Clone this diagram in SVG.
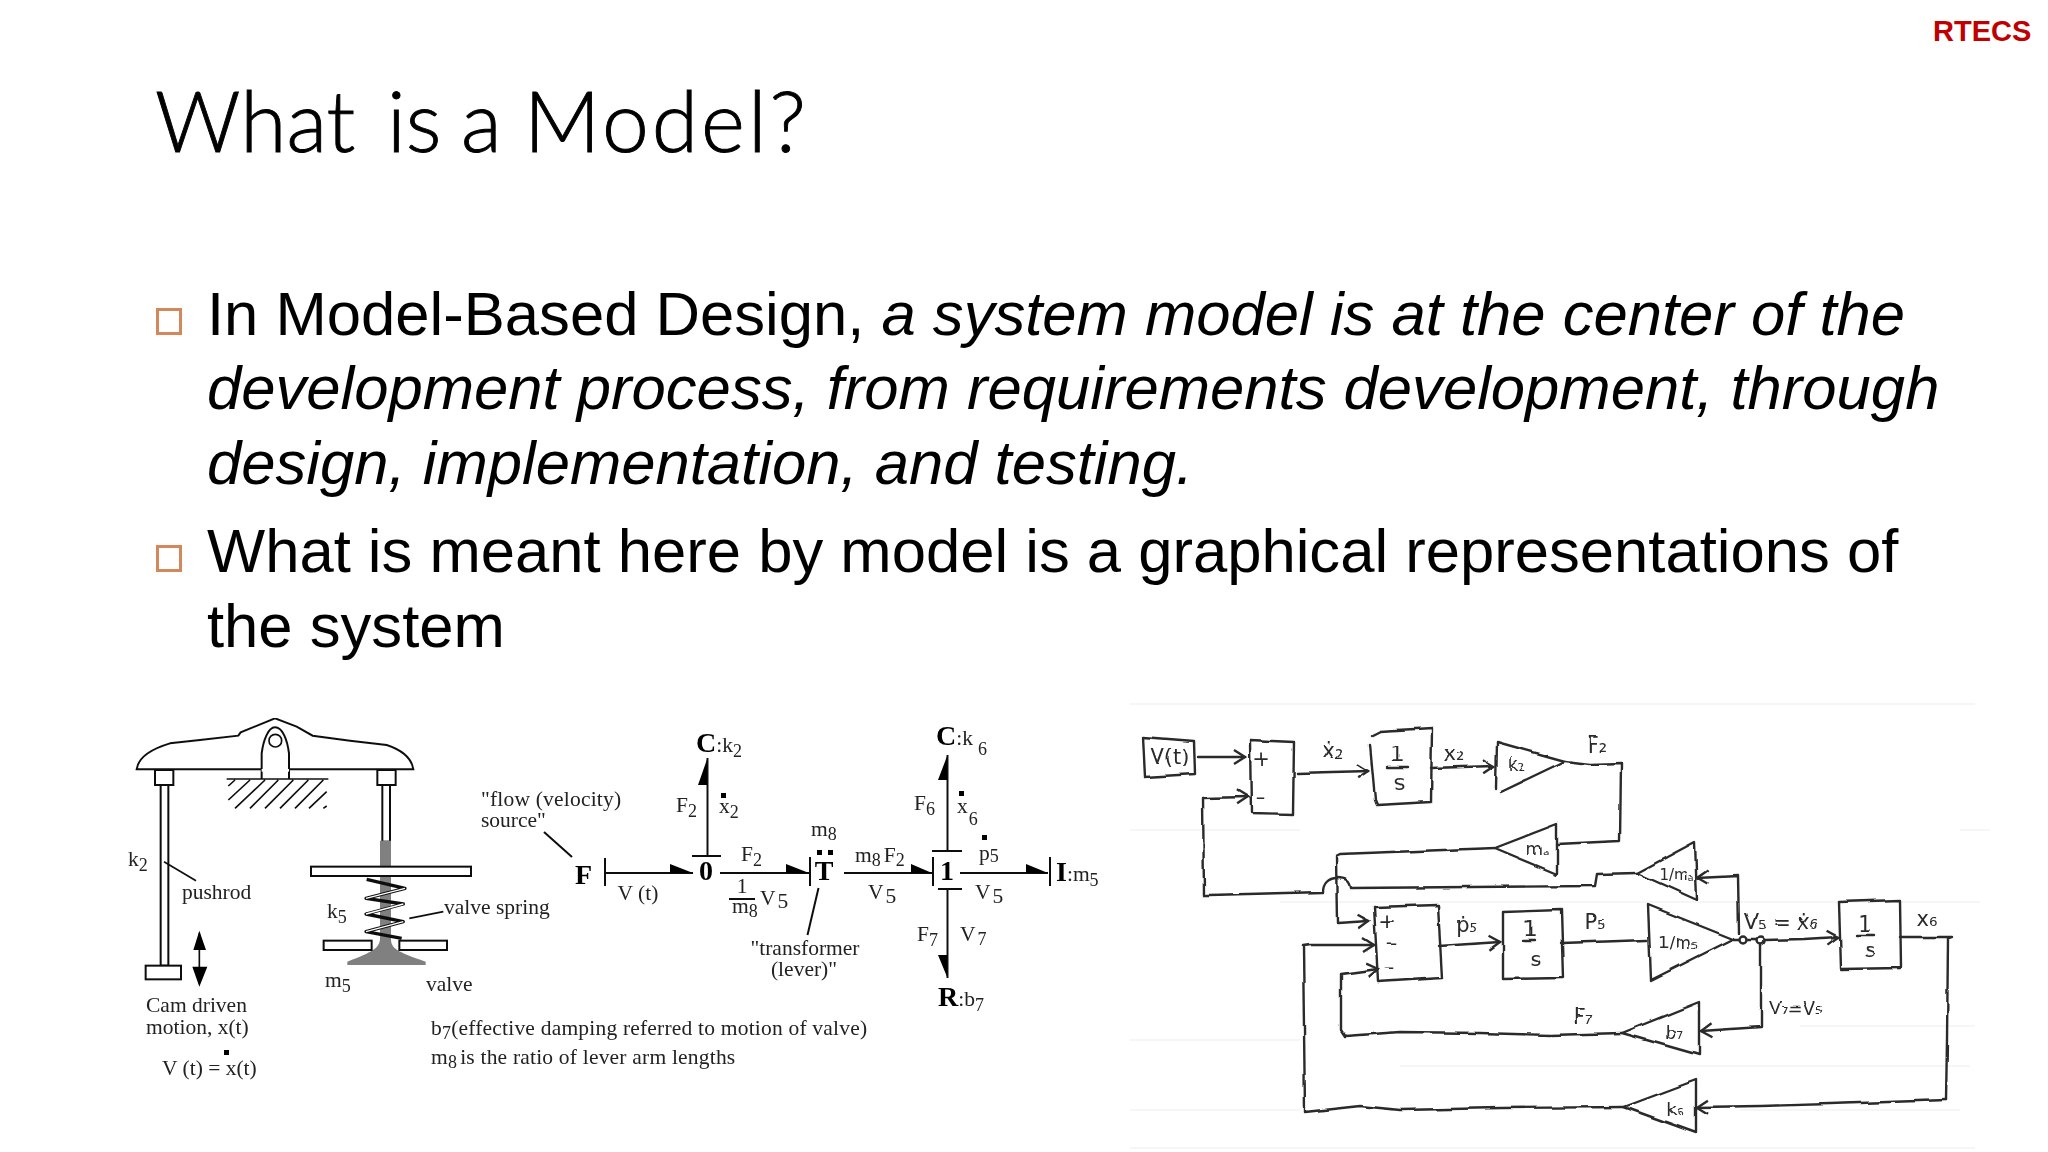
<svg xmlns="http://www.w3.org/2000/svg" width="2048" height="1152" viewBox="0 0 2048 1152">
<style>
text{fill:#000}
.b{font-family:"Liberation Sans",Arial,sans-serif;font-size:61.6px}
.i{font-style:italic}
.s{font-family:"Liberation Serif","Times New Roman",serif;font-size:21.5px;font-weight:normal;fill:#222}
.sb{font-family:"Liberation Serif","Times New Roman",serif;font-size:28px;font-weight:bold}
.u{font-size:18px}
.c{text-anchor:middle}
.l{fill:none;stroke:#111;stroke-width:2}
.g{fill:#808080}
.k{fill:#000}
.h{fill:none;stroke:#2a2a2a;stroke-width:2.4;stroke-linejoin:round;stroke-linecap:round}
.ht{font-family:"DejaVu Sans",sans-serif;font-size:21px;fill:#2a2a2a;text-anchor:middle}
.p{stroke:#f6f6f6;stroke-width:2}
.bu{fill:none;stroke:#d4875a;stroke-width:3}
</style>
<defs>
<marker id="oa" markerUnits="userSpaceOnUse" markerWidth="16" markerHeight="18" refX="13" refY="9" orient="auto"><path d="M2,2 L13,9 L2,16" fill="none" stroke="#2a2a2a" stroke-width="2.4"/></marker>
<filter id="soft" x="0" y="0" width="1" height="1" filterUnits="objectBoundingBox"><feGaussianBlur stdDeviation=".5"/></filter>
<filter id="wob" filterUnits="userSpaceOnUse" x="1120" y="700" width="880" height="450"><feTurbulence type="fractalNoise" baseFrequency=".035" numOctaves="2" seed="4"/><feDisplacementMap in="SourceGraphic" scale="4" xChannelSelector="R" yChannelSelector="G"/><feGaussianBlur stdDeviation=".45"/></filter>
</defs>
<rect width="2048" height="1152" fill="#fff"/>
<text id="brand" x="1933" y="41" font-family="Liberation Sans,Arial,sans-serif" font-size="29" font-weight="bold" style="fill:#c00000">RTECS</text>
<text id="title" x="155" y="152" font-family="Lato,sans-serif" font-weight="300" font-size="84" stroke="#000" stroke-width=".9">What <tspan x="387">is</tspan> <tspan x="461">a</tspan> <tspan x="524" letter-spacing="3">Model?</tspan></text>
<g id="bullets">
<rect class="bu" x="157.500" y="309.500" width="23" height="24"/>
<rect class="bu" x="157.500" y="546.500" width="23" height="24"/>
<text class="b" x="207" y="335">In Model-Based Design, <tspan class="i">a system model is at the center of the</tspan></text>
<text class="b i" x="207" y="409">development process, from requirements development, through</text>
<text class="b i" x="207" y="484">design, implementation, and testing.</text>
<text class="b" x="207" y="572">What is meant here by model is a graphical representations of</text>
<text class="b" x="207" y="647">the system</text>
</g>
<g id="mechanism" filter="url(#soft)">
<g transform="translate(110 700) scale(.33333)">
<path d="M80,208 C85,170 130,145 180,130 L270,120 L385,107 L392,97 L495,55 L560,80 L608,107 L720,122 L830,135 C875,150 905,175 910,208 Z" fill="#fff" stroke="#111" stroke-width="6"/>
<path d="M455,237 L455,160 C460,120 475,82 495,82 C518,82 532,120 537,160 L537,237" fill="#fff" stroke="#111" stroke-width="6"/>
<path d="M455,211 H537" stroke="#fff" stroke-width="8"/>
<circle cx="496" cy="122" r="19" fill="#fff" stroke="#111" stroke-width="5"/>
<path d="M350,237 H655 M355,258 L375,240 M355,300 L420,240 M375,325 L465,240 M420,325 L505,240 M465,325 L550,240 M510,325 L595,240 M555,325 L640,240 M597,325 L650,275 M640,325 L650,318" stroke="#111" stroke-width="5" fill="none"/>
<rect x="135" y="210" width="55" height="45" fill="#fff" stroke="#111" stroke-width="6"/>
<rect x="152" y="255" width="23" height="542" fill="#fff" stroke="#111" stroke-width="6"/>
<rect x="107" y="797" width="106" height="41" fill="#fff" stroke="#111" stroke-width="6"/>
<rect x="802" y="210" width="55" height="45" fill="#fff" stroke="#111" stroke-width="6"/>
<rect x="817" y="255" width="23" height="170" fill="#fff" stroke="#111" stroke-width="6"/>
<path class="g" d="M810,422 H843 V720 C845,745 860,755 947,785 V795 H712 V785 C790,755 805,745 810,720 Z"/>
<rect x="603" y="500" width="480" height="28" fill="#fff" stroke="#111" stroke-width="6"/>
<rect x="641" y="722" width="144" height="28" fill="#fff" stroke="#111" stroke-width="6"/>
<rect x="868" y="722" width="143" height="28" fill="#fff" stroke="#111" stroke-width="6"/>
<path d="M770,538 L885,565 L768,595 L880,612 L768,642 L880,665 L768,695 L875,715" fill="none" stroke="#111" stroke-width="10" stroke-linejoin="round"/>
<path d="M885,565 L768,595 M880,612 L768,642 M880,665 L768,695" fill="none" stroke="#fff" stroke-width="4"/>
<path d="M162,485 L258,542 M898,655 L1000,635 M268,700 V850" stroke="#111" stroke-width="5" fill="none"/>
<path class="k" d="M268,692 L288,750 H250 Z M268,860 L292,800 H247 Z"/>
</g>
<text class="s" x="128" y="866">k<tspan class="u" dy="5">2</tspan></text>
<text class="s" x="182" y="899">pushrod</text>
<text class="s" x="444" y="914">valve spring</text>
<text class="s" x="327" y="918">k<tspan class="u" dy="5">5</tspan></text>
<text class="s" x="325" y="987">m<tspan class="u" dy="5">5</tspan></text>
<text class="s" x="426" y="991">valve</text>
<text class="s" x="146" y="1012">Cam driven</text>
<text class="s" x="146" y="1034">motion, x(t)</text>
<text class="s" x="162" y="1075">V (t) = x(t)</text>
<rect class="k" x="224" y="1050" width="5" height="5"/>
</g>
<g id="bondgraph" filter="url(#soft)">
<g id="connectors-bond">
<path class="l" d="M605,858 V886 M605,873 H693 M720,873 H809 M810,857 V886 M844,873 H932 M933,857 V886 M960,873 H1048 M1050,857 V886 M692,856 H721 M707.500,855 V758 M932,851 H962 M938,889 H962 M947.500,851 V755 M947.500,889 V978 M544,832 L572,857 M818.500,888 L807.500,935"/>
<path class="k" d="M670,864 L693,873 H670 Z M786,864 L809,873 H786 Z M911,864 L932,873 H911 Z M1026,864 L1048,873 H1026 Z M707.500,758 V785 H698 Z M947.500,755 V780 H938 Z M947.500,978 V955 H938 Z"/>
</g>
<text class="sb" x="575" y="884">F</text>
<text class="sb c" x="706" y="880">0</text>
<text class="sb c" x="824" y="880">T</text>
<text class="sb c" x="947" y="880">1</text>
<text class="sb" x="696" y="752">C<tspan class="s">:k</tspan><tspan class="s u" dy="5">2</tspan></text>
<text class="sb" x="936" y="745">C<tspan class="s">:k</tspan><tspan class="s u" dy="10" dx="5">6</tspan></text>
<text class="sb" x="938" y="1006">R<tspan class="s">:b</tspan><tspan class="s u" dy="5">7</tspan></text>
<text class="sb" x="1056" y="881">I<tspan class="s">:m</tspan><tspan class="s u" dy="5">5</tspan></text>
<text class="s" x="676" y="812">F<tspan class="u" dy="5">2</tspan></text>
<text class="s" x="719" y="813">x<tspan class="u" dy="5">2</tspan></text>
<rect class="k" x="721" y="793" width="5" height="5"/>
<text class="s" x="741" y="861">F<tspan class="u" dy="5">2</tspan></text>
<text class="s c" x="742" y="893">1</text>
<path class="l" d="M729,899 H755"/>
<text class="s" x="732" y="913">m<tspan class="u" dy="4">8</tspan></text>
<text class="s" x="760" y="905">V<tspan dx="2" dy="3">5</tspan></text>
<rect class="k" x="817" y="850" width="5" height="5"/><rect class="k" x="828" y="850" width="5" height="5"/>
<text class="s" x="811" y="836">m<tspan class="u" dy="4">8</tspan></text>
<text class="s" x="855" y="862">m<tspan class="u" dy="4">8</tspan><tspan dy="-4" dx="3">F</tspan><tspan class="u" dy="4">2</tspan></text>
<text class="s" x="868" y="899">V<tspan dx="2" dy="4">5</tspan></text>
<text class="s" x="914" y="810">F<tspan class="u" dy="5">6</tspan></text>
<text class="s" x="957" y="813">x<tspan class="u" dy="12" dx="1">6</tspan></text>
<rect class="k" x="959" y="791" width="5" height="5"/>
<rect class="k" x="982" y="835" width="5" height="5"/>
<text class="s" x="979" y="860">p<tspan class="u" dy="2">5</tspan></text>
<text class="s" x="975" y="899">V<tspan dx="2" dy="4">5</tspan></text>
<text class="s" x="917" y="941">F<tspan class="u" dy="5">7</tspan></text>
<text class="s" x="960" y="941">V<tspan dx="2" class="u" dy="4">7</tspan></text>
<text class="s c" x="638" y="900">V (t)</text>
<text class="s" x="481" y="806" letter-spacing=".2">"flow (velocity)</text>
<text class="s" x="481" y="827">source"</text>
<text class="s c" x="805" y="955">"transformer</text>
<text class="s c" x="804" y="976">(lever)"</text>
<text class="s" x="431" y="1035" letter-spacing=".2">b<tspan class="u" dy="4">7</tspan><tspan dy="-4">(effective damping referred to motion of valve)</tspan></text>
<text class="s" x="431" y="1064" letter-spacing=".2">m<tspan class="u" dy="4">8</tspan><tspan dy="-4" dx="3">is the ratio of lever arm lengths</tspan></text>
</g>
<g id="paper">
<path class="p" d="M1130,704 H1975 M1130,830 H1300 M1960,830 H1990 M1280,902 H1980 M1130,1040 H1300 M1800,1026 H1975 M1400,1066 H1970 M1130,1110 H1300 M1740,1110 H1960 M1130,1148 H1975"/>
</g>
<g id="sketch-connectors" filter="url(#wob)">
<path class="h" marker-end="url(#oa)" d="M1198,757 H1245"/>
<path class="h" marker-end="url(#oa)" d="M1297,773 L1368,771"/>
<path class="h" marker-end="url(#oa)" d="M1431,768 L1494,766"/>
<path class="h" d="M1565,761 L1590,764 L1621,763 L1620,841 L1557,844"/>
<path class="h" marker-end="url(#oa)" d="M1495,848 L1340,854 L1336,856 L1337,923 L1369,921"/>
<path class="h" marker-end="url(#oa)" d="M1637,873 L1597,874 L1595,886 L1351,888 C1350,880 1345,878 1337,878 C1328,878 1323,884 1323,892 L1210,895 L1204,895 L1203,798 L1248,797"/>
<path class="h" marker-end="url(#oa)" d="M1739,933 L1738,875 L1697,877"/>
<path class="h" marker-end="url(#oa)" d="M1439,946 L1500,942"/>
<path class="h" d="M1562,943 L1647,940"/>
<path class="h" d="M1732,940 L1739,940 M1747,940 L1757,940"/>
<path class="h" marker-end="url(#oa)" d="M1765,940 L1805,939 L1838,937"/>
<path class="h" d="M1900,937 L1953,937 L1948,938 L1947,1040 L1946,1100"/>
<path class="h" marker-end="url(#oa)" d="M1946,1100 L1830,1104 L1760,1106 L1697,1107"/>
<path class="h" marker-end="url(#oa)" d="M1624,1107 L1500,1108 L1400,1110 L1360,1106 L1305,1112 L1303,946 L1310,945 L1374,945"/>
<path class="h" marker-end="url(#oa)" d="M1761,945 L1761,1027 L1701,1031"/>
<path class="h" marker-end="url(#oa)" d="M1622,1033 L1550,1035 L1480,1033 L1400,1032 L1345,1036 L1341,1030 L1341,974 L1378,969"/>
</g>
<g id="sketch-nodes" filter="url(#wob)">
<g id="n-vt"><path class="h" d="M1143,737 L1194,741 L1195,774 L1145,777 Z"/><text class="ht" x="1170" y="764">V(t)</text></g>
<g id="n-sum1"><path class="h" d="M1250,740 L1294,742 L1293,814 L1251,813 Z"/><text class="ht" x="1262" y="766">+</text><text class="ht" x="1261" y="804">–</text></g>
<g id="n-int1"><path class="h" d="M1370,745 L1375,800 L1377,805 L1431,802 L1432,728 L1380,731 L1372,735"/><text class="ht" x="1397" y="762">1</text><path class="h" d="M1388,768 H1407"/><text class="ht" x="1400" y="790">s</text></g>
<g id="n-k2"><path class="h" d="M1497,742 L1565,761 L1500,792 M1497,742 L1496,788"/><text class="ht" x="1517" y="771" style="font-size:17px">k₂</text></g>
<g id="n-ma"><path class="h" d="M1557,824 L1557,874 L1495,848 Z"/><text class="ht" x="1538" y="855" style="font-size:17px">mₐ</text></g>
<g id="n-1ma"><path class="h" d="M1695,842 L1697,900 L1637,873 Z"/><text class="ht" x="1676" y="880" style="font-size:15px">1/mₐ</text></g>
<g id="n-sum2"><path class="h" d="M1374,907 L1438,905 L1442,978 L1378,982 Z"/><text class="ht" x="1387" y="928">+</text><text class="ht" x="1392" y="950">–</text><text class="ht" x="1390" y="974">–</text></g>
<g id="n-int2"><path class="h" d="M1503,912 L1562,910 L1564,978 L1503,979 Z"/><text class="ht" x="1530" y="936">1</text><path class="h" d="M1523,940 H1535"/><text class="ht" x="1536" y="966">s</text></g>
<g id="n-1m5"><path class="h" d="M1648,905 L1733,939 L1651,980 Z"/><text class="ht" x="1678" y="949" style="font-size:17px">1/m₅</text></g>
<g id="n-dots"><circle class="h" cx="1743" cy="940" r="3.500"/><circle class="h" cx="1761" cy="941" r="3.500"/></g>
<g id="n-int3"><path class="h" d="M1839,902 L1900,900 L1901,968 L1841,969 Z"/><text class="ht" x="1866" y="931">1</text><path class="h" d="M1858,935 H1875"/><text class="ht" x="1870" y="958">s</text></g>
<g id="n-b7"><path class="h" d="M1699,1002 L1699,1055 L1622,1033 Z"/><text class="ht" x="1674" y="1039" style="font-size:18px">b₇</text></g>
<g id="n-k6"><path class="h" d="M1696,1080 L1696,1133 L1624,1107 Z"/><text class="ht" x="1675" y="1116" style="font-size:18px">k₆</text></g>
</g>
<g id="sketch-labels" filter="url(#wob)">
<text class="ht" x="1333" y="758">ẋ₂</text>
<text class="ht" x="1455" y="761">x₂</text>
<text class="ht" x="1597" y="752">F₂</text>
<text class="ht" x="1466" y="932">ṗ₅</text>
<text class="ht" x="1595" y="929">P₅</text>
<text class="ht" x="1781" y="929">V₅ = ẋ₆</text>
<text class="ht" x="1927" y="926">x₆</text>
<text class="ht" x="1583" y="1023">F₇</text>
<text class="ht" x="1796" y="1014" style="font-size:18px">V₇=V₅</text>
</g>
</svg>
